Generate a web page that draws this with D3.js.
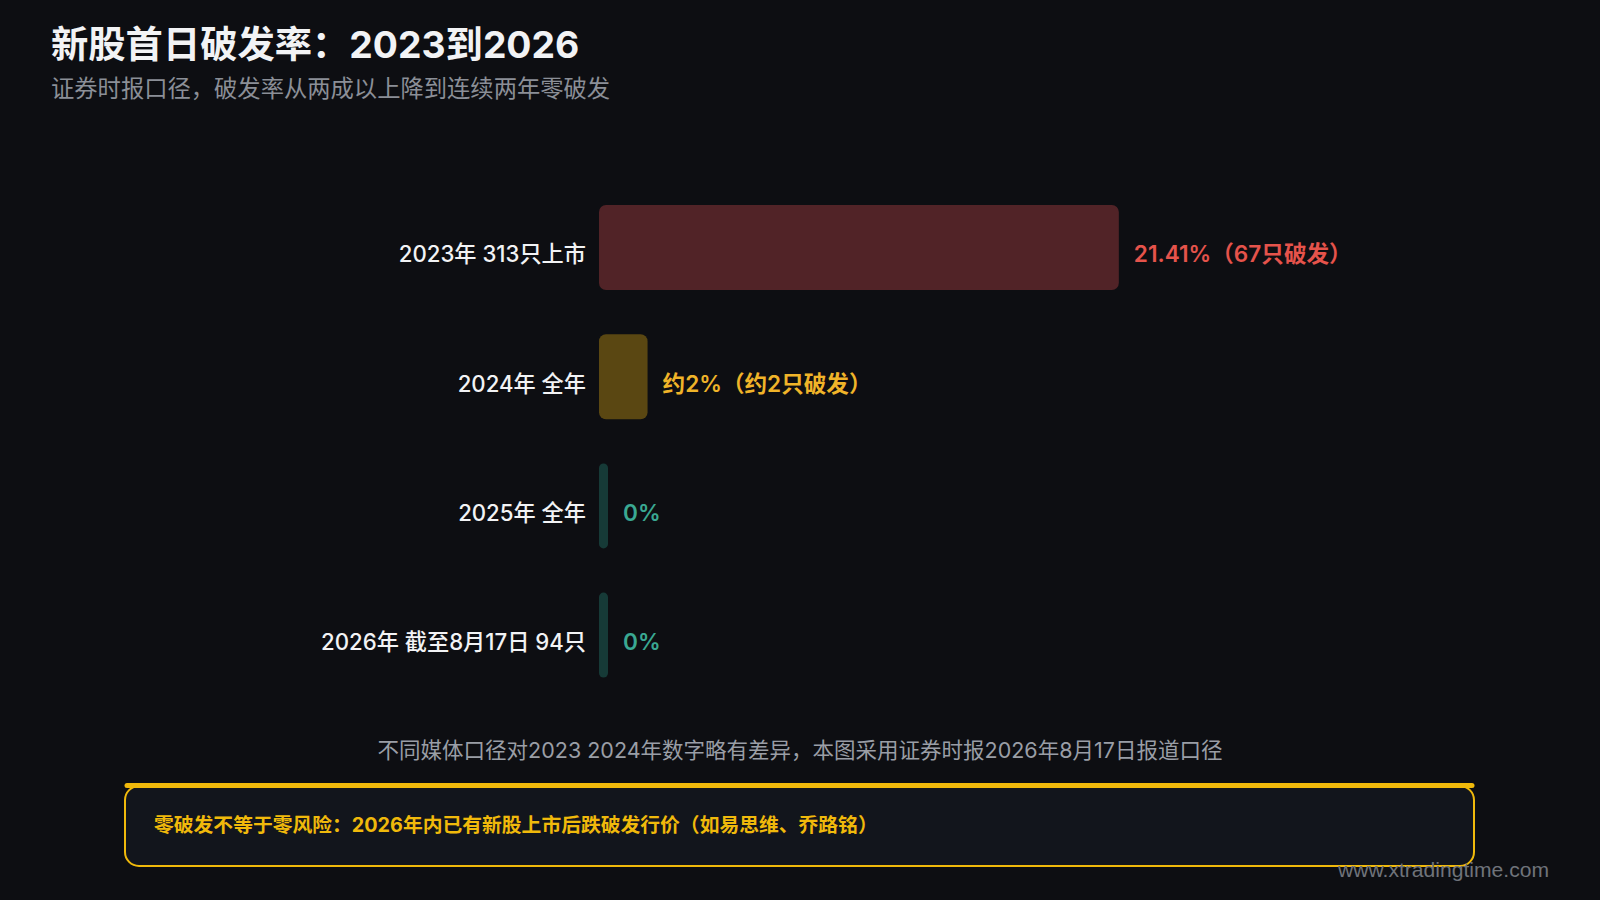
<!DOCTYPE html>
<html><head><meta charset="utf-8">
<script src="https://cdn.jsdelivr.net/npm/d3@7"></script>
<style>
html,body{margin:0;padding:0;background:#0d0e12;}
svg{display:block;font-family:"Inter","Noto Sans CJK SC","Noto Sans",sans-serif;}
</style></head>
<body>
<svg id="chart" width="1600" height="900"></svg>
<script>
const categories = ["2023年 313只上市", "2024年 全年", "2025年 全年", "2026年 截至8月17日 94只"];
const rates = [21.41, 2, 0, 0];
const valueLabels = ["21.41%（67只破发）", "约2%（约2只破发）", "0%", "0%"];
const barColors = ["#512327", "#5a4712", "#163a37", "#163a37"];
const labelColors = ["#e5534b", "#f0b429", "#3aa892", "#3aa892"];
const titleText = "新股首日破发率：2023到2026";
const subtitleText = "证券时报口径，破发率从两成以上降到连续两年零破发";
const noteText = "不同媒体口径对2023 2024年数字略有差异，本图采用证券时报2026年8月17日报道口径";
const calloutText = "零破发不等于零风险：2026年内已有新股上市后跌破发行价（如易思维、乔路铭）";
const watermark = "www.xtradingtime.com";

const svg = d3.select("#chart");
svg.append("rect").attr("width",1600).attr("height",900).attr("fill","#0d0e12");

svg.append("text").attr("x",51).attr("y",58).attr("dominant-baseline","alphabetic")
  .attr("fill","#f2f3f5").attr("font-size",37.3).attr("font-weight",700).text(titleText);
svg.append("text").attr("x",51).attr("y",97).attr("dominant-baseline","alphabetic")
  .attr("fill","#8b8f97").attr("font-size",23.3).attr("font-weight",400).text(subtitleText);

const x = d3.scaleLinear().domain([0, 25]).range([599, 599 + 607]);
const y = d3.scaleBand().domain(categories).range([160.8, 721.8]).paddingInner(0.342).paddingOuter(0.342);
const minW = 9;

const data = categories.map((c,i)=>({c, v:rates[i], lab:valueLabels[i], bc:barColors[i], lc:labelColors[i]}));

const g = svg.append("g");
g.selectAll("rect.bar").data(data).enter().append("rect").attr("class","bar")
  .attr("x", x(0))
  .attr("y", d=>y(d.c))
  .attr("width", d=>Math.max(x(d.v)-x(0), minW))
  .attr("height", y.bandwidth())
  .attr("rx", d=> (x(d.v)-x(0)) < minW ? minW/2 : 7)
  .attr("fill", d=>d.bc);

const labOff = 15;
g.selectAll("text.cat").data(data).enter().append("text").attr("class","cat")
  .attr("x", x(0) - 13)
  .attr("y", d=>y(d.c)+y.bandwidth()/2 + labOff)
  .attr("text-anchor","end")
  .attr("fill","#f2f3f5").attr("font-size",22.2).attr("font-weight",500)
  .text(d=>d.c);

g.selectAll("text.val").data(data).enter().append("text").attr("class","val")
  .attr("x", d=>x(0)+Math.max(x(d.v)-x(0), minW) + 15)
  .attr("y", d=>y(d.c)+y.bandwidth()/2 + labOff)
  .attr("fill", d=>d.lc).attr("font-size",22.6).attr("font-weight",600)
  .text(d=>d.lab);

svg.append("text").attr("x",800).attr("y",758).attr("text-anchor","middle")
  .attr("fill","#9a9ea6").attr("font-size",21.5).attr("font-weight",400).text(noteText);

// callout box
const bx = 125, by = 786, bw = 1349, bh = 80;
svg.append("rect").attr("x",bx).attr("y",by).attr("width",bw).attr("height",bh).attr("rx",14)
  .attr("fill","#12151c").attr("stroke","#f0b90b").attr("stroke-width",2);
svg.append("line").attr("x1",bx+2).attr("x2",bx+bw-2).attr("y1",by-0.5).attr("y2",by-0.5)
  .attr("stroke","#f0b90b").attr("stroke-width",5).attr("stroke-linecap","round");
svg.append("text").attr("x",154).attr("y",832)
  .attr("fill","#f0b90b").attr("font-size",19.8).attr("font-weight",700).text(calloutText);

svg.append("text").attr("x",1549).attr("y",877).attr("text-anchor","end")
  .attr("fill","#6f737a").attr("font-size",21.1).attr("font-family","Liberation Sans, Arial, sans-serif").text(watermark);
</script>
</body></html>
